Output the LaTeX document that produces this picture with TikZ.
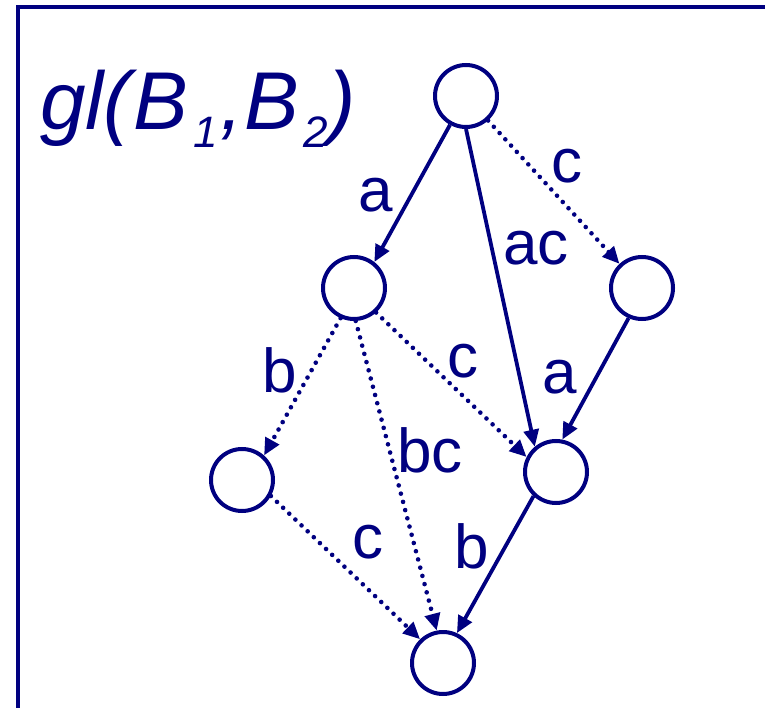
\documentclass[tikz,border=0pt]{standalone}
\usepackage{fontspec}
\setmainfont{Liberation Sans}
\usetikzlibrary{arrows.meta}
\definecolor{navy}{RGB}{0,0,128}
\begin{document}
\begin{tikzpicture}[x=1pt,y=-1pt,
  state/.style={circle,draw=navy,line width=4pt,minimum size=62pt,inner sep=0pt},
  solidedge/.style={draw=navy,line width=3.8pt,-{Triangle[length=17pt,width=15pt]}},
  dotedge/.style={draw=navy,line width=4.6pt,line cap=round,dash pattern=on 0pt off 8.5pt,-{Triangle[length=17pt,width=15pt]}},
  lbl/.style={text=navy,inner sep=0pt,anchor=base,font=\fontsize{62}{70}\selectfont}]
\useasboundingbox (0,0) rectangle (765,708);
\draw[navy,line width=4.5pt] (765,7) -- (18,7) -- (18,708);
\node[text=navy,anchor=base west,inner sep=0pt] (title) at (40,130)
  {\fontsize{82}{90}\selectfont\itshape gl(\kern2pt B\kern5pt\raisebox{-18pt}{\fontsize{44}{48}\selectfont 1}\kern3pt,\kern1pt B\kern5pt\raisebox{-18pt}{\fontsize{44}{48}\selectfont 2})};
\node[state] (t) at (466,96) {};
\node[state] (r) at (642,288) {};
\node[state] (lm) at (354,288) {};
\node[state] (ll) at (242,480) {};
\node[state] (lr) at (556,472) {};
\node[state] (bt) at (443,663) {};
\draw[solidedge] (t.-119) -- (lm.52);
\draw[solidedge] (t.-90) -- (lr.130);
\draw[dotedge] (t.-48) -- (r.133);
\draw[solidedge] (r.-114) -- (lr.79);
\draw[dotedge] (lm.-114) -- (ll.48);
\draw[dotedge] (lm.-87) -- (bt.101);
\draw[dotedge] (lm.-48) -- (lr.153);
\draw[dotedge] (ll.-29) -- (bt.134);
\draw[solidedge] (lr.-133) -- (bt.65);
\node[lbl] (l1) at (376,212) {a};
\node[lbl] (l2) at (567,183) {c};
\node[lbl] (l3) at (536,265) {ac};
\node[lbl] (l4) at (280,392) {b};
\node[lbl] (l5) at (463,377) {c};
\node[lbl] (l6) at (560,393) {a};
\node[lbl] (l7) at (430,472) {bc};
\node[lbl] (l8) at (368,558) {c};
\node[lbl] (l9) at (472,568) {b};
\end{tikzpicture}
\end{document}
